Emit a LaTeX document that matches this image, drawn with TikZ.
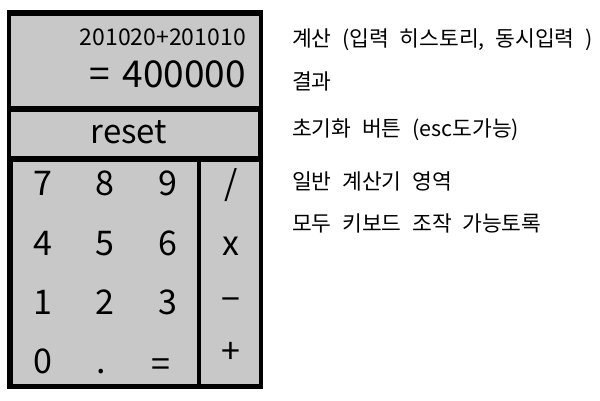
\documentclass[tikz,border=0pt]{standalone}
\usepackage{fontspec}
\setmainfont{Noto Sans CJK KR}
\newfontfamily\notefont[WordSpace=2.2]{Noto Sans CJK KR}
\begin{document}
\begin{tikzpicture}[x=1pt,y=-1pt,
  panel/.style={fill=panelgray},
  frame/.style={fill=black},
  hist/.style={inner sep=0pt,anchor=base east,font=\fontsize{23}{23}\selectfont},
  result/.style={inner sep=0pt,anchor=base east,font=\fontsize{37}{37}\selectfont},
  resetlbl/.style={inner sep=0pt,anchor=base,font=\fontsize{33}{33}\selectfont},
  keybase/.style={inner sep=0pt,anchor=base,font=\fontsize{34}{34}\selectfont},
  keymid/.style={inner sep=0pt,anchor=center,font=\fontsize{34}{34}\selectfont},
  note/.style={inner sep=0pt,anchor=west,font=\notefont\fontsize{21.5}{21.5}\selectfont}]
\definecolor{panelgray}{RGB}{200,200,200}
\useasboundingbox (0,0) rectangle (600,400);
% frame and panels
\path[frame] (7,10) rectangle (263,389);
\path[panel] (11,16) rectangle (259,106);
\path[panel] (11,112) rectangle (258,156);
\path[panel] (13,162) rectangle (197,384);
\path[panel] (201,162) rectangle (259,384);
% display
\node[hist] (hist) at (246,45) {201020+201010};
\node[result] (res) at (246,87) {=\hspace{4pt} 400000};
\node[resetlbl] (reset) at (129,143) {reset};
% keypad
\node[keybase] (k7) at (43,195) {7};
\node[keybase] (k8) at (105,195) {8};
\node[keybase] (k9) at (168,195) {9};
\node[keybase] (k4) at (43,255) {4};
\node[keybase] (k5) at (105,255) {5};
\node[keybase] (k6) at (168,255) {6};
\node[keybase] (k1) at (43,314) {1};
\node[keybase] (k2) at (105,314) {2};
\node[keybase] (k3) at (168,314) {3};
\node[keybase] (k0) at (43,373) {0};
\node[keybase] (kdot) at (101,373) {.};
\node[keymid] (keq) at (161,368) {=};
\node[keybase] (kdiv) at (231,195) {/};
\node[keybase] (kmul) at (231,255) {x};
\node[keymid] (ksub) at (231,305) {−};
\node[keymid] (kadd) at (231,353) {+};
% notes
\node[note] (n1) at (292,40) {계산 (입력 히스토리, 동시입력 )};
\node[note] (n2) at (292,81) {결과};
\node[note] (n3) at (292,130) {초기화 버튼 (esc도가능)};
\node[note] (n4) at (292,181) {일반 계산기 영역};
\node[note] (n5) at (292,223) {모두 키보드 조작 가능토록};
\end{tikzpicture}
\end{document}
